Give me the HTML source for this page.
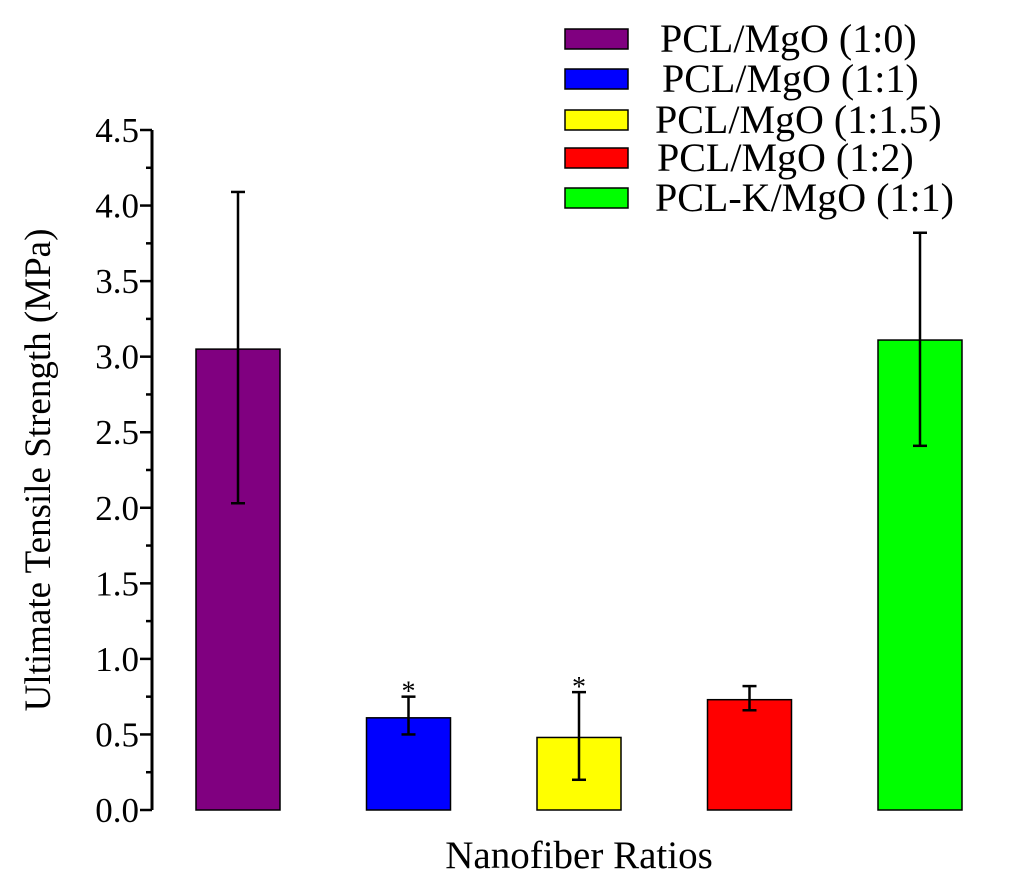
<!DOCTYPE html>
<html><head><meta charset="utf-8"><style>
html,body{margin:0;padding:0;background:#fff;}
svg{display:block;}
svg text{font-family:"Liberation Serif","DejaVu Serif",serif;}
</style></head><body>
<svg id="chart" width="1024" height="883" viewBox="0 0 1024 883" xmlns="http://www.w3.org/2000/svg">
<g id="axes"></g><g id="bars"></g><g id="legend"></g>
<text font-family="Liberation Serif, serif" transform="translate(50,470) rotate(-90)" text-anchor="middle" font-size="37" fill="#000">Ultimate Tensile Strength (MPa)</text>
<text font-family="Liberation Serif, serif" x="579" y="868" text-anchor="middle" font-size="39" fill="#000">Nanofiber Ratios</text>
</svg>
<script>
const categories=["PCL/MgO (1:0)","PCL/MgO (1:1)","PCL/MgO (1:1.5)","PCL/MgO (1:2)","PCL-K/MgO (1:1)"];
const values=[3.05,0.61,0.48,0.73,3.11];
const errLow=[2.03,0.50,0.20,0.66,2.41];
const errHigh=[4.09,0.75,0.78,0.82,3.82];
const colors=["#800080","#0000ff","#ffff00","#ff0000","#00ff00"];
const significant=[false,true,true,false,false];
const yTicks=["0.0","0.5","1.0","1.5","2.0","2.5","3.0","3.5","4.0","4.5"];
const NS="http://www.w3.org/2000/svg";
const y0=810,yTop=130,yMax=4.5;
const y=v=>y0-(v/yMax)*(y0-yTop);
const x=i=>238+i*170.5;
function mk(tag,attrs,parent){const e=document.createElementNS(NS,tag);for(const k in attrs)e.setAttribute(k,attrs[k]);parent.appendChild(e);return e;}
const axes=document.getElementById('axes');
const ax=mk('line',{x1:152,x2:152,y1:yTop,y2:y0,stroke:'#000','stroke-width':3},axes);


yTicks.forEach((t,i)=>{const v=parseFloat(t);
 const tk=mk('line',{x1:140,x2:152,y1:y(v),y2:y(v),stroke:'#000','stroke-width':2.5},axes);
 
 
 if(i<yTicks.length-1){const m=mk('line',{x1:146,x2:152,y1:y(v+0.25),y2:y(v+0.25),stroke:'#000','stroke-width':2.5},axes);
  
  }
 const tx=mk('text',{x:139,y:y(v)+12,'text-anchor':'end','font-size':35,fill:'#000','font-family':'Liberation Serif, serif'},axes);
 tx.textContent=t;
 
 
});
const bars=document.getElementById('bars');
values.forEach((v,i)=>{const cx=x(i);
 const r=mk('rect',{x:cx-42,y:y(v),width:84,height:y0-y(v),fill:colors[i],stroke:'#000','stroke-width':1.5},bars);
 
 
 const g=mk('g',{stroke:'#000','stroke-width':2.5},bars);
 
 
 mk('line',{x1:cx,x2:cx,y1:y(errLow[i]),y2:y(errHigh[i])},g);
 mk('line',{x1:cx-7,x2:cx+7,y1:y(errLow[i]),y2:y(errLow[i])},g);
 mk('line',{x1:cx-7,x2:cx+7,y1:y(errHigh[i]),y2:y(errHigh[i])},g);
 if(significant[i]){const s=mk('text',{x:cx,y:y(errHigh[i])+4,'text-anchor':'middle','font-size':28,fill:'#000','font-family':'Liberation Serif, serif'},bars);
  s.textContent='*';
  
  }
});
const legend=document.getElementById('legend');
const ly=[39,79,120,158,198];
const lx=[660,662,655,657,655];
categories.forEach((c,i)=>{
 const g=mk('g',{},legend);
 
 
 mk('rect',{x:565,y:ly[i]-10,width:63,height:20,fill:colors[i],stroke:'#000','stroke-width':1.5},g);
 const t=mk('text',{x:lx[i],y:ly[i]+13,'font-size':40,fill:'#000','font-family':'Liberation Serif, serif'},g);
 t.textContent=c;
});
</script>
</body></html>
